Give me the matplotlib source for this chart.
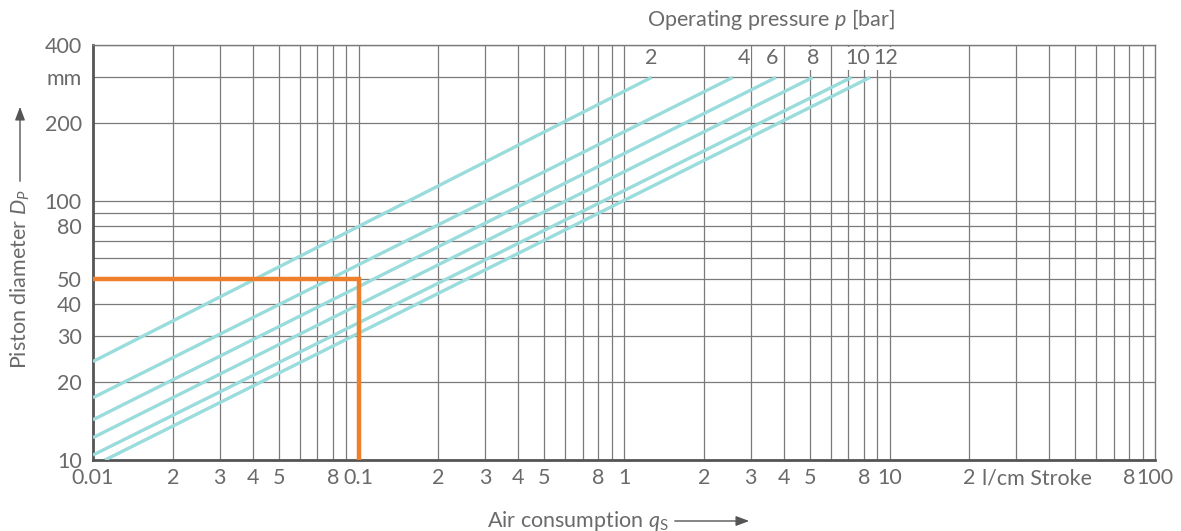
import matplotlib
matplotlib.use("Agg")
import matplotlib.pyplot as plt
from matplotlib.ticker import FixedLocator, FixedFormatter, NullLocator

# ---------------- data ----------------
pressures = [2, 4, 6, 8, 10, 12]                      # bar
q_start = [0.01, 0.01, 0.01, 0.01, 0.01, 0.0111]      # l/cm stroke
D_start = [24.0, 17.4, 14.3, 12.2, 10.45, 10.0]       # mm
q_end = [1.27, 2.57, 3.74, 5.14, 7.20, 8.45]          # l/cm stroke
D_end = [300, 300, 300, 300, 300, 300]                # mm

example_D = 50
example_q = 0.1

x_ticks = [0.01, 0.02, 0.03, 0.04, 0.05, 0.08, 0.1, 0.2, 0.3, 0.4, 0.5, 0.8,
           1, 2, 3, 4, 5, 8, 10, 20, 80, 100]
x_tick_labels = ["0.01", "2", "3", "4", "5", "8", "0.1", "2", "3", "4", "5", "8",
                 "1", "2", "3", "4", "5", "8", "10", "2", "8", "100"]
y_ticks = [10, 20, 30, 40, 50, 80, 100, 200, 300, 400]
y_tick_labels = ["10", "20", "30", "40", "50", "80", "100", "200", "mm", "400"]
unit_label = "l/cm Stroke"

# ---------------- style ----------------
plt.rcParams['font.family'] = ['Lato', 'DejaVu Sans']
plt.rcParams['mathtext.fontset'] = 'custom'
plt.rcParams['mathtext.it'] = 'Lato:italic'
plt.rcParams['mathtext.rm'] = 'Lato'
text_color = '#6a6a6a'
grid_color = '#7a7a7a'
line_color = '#9adcdc'
orange = '#f07f2c'
fs = 15.5
label_dx_pt = [0, 8, -3, 0, 4, 11]

fig = plt.figure(figsize=(11.81, 5.31), dpi=100)
ax = fig.add_axes([93/1181, 1-460/531, (1155-93)/1181, (460-45)/531])
ax.set_xscale('log')
ax.set_yscale('log')
ax.set_xlim(0.01, 100)
ax.set_ylim(10, 400)

# grid
for dec in [0.01, 0.1, 1, 10]:
    for m in range(1, 10):
        ax.axvline(dec*m, color=grid_color, lw=0.9, zorder=1)
for v in [10, 20, 30, 40, 50, 60, 70, 80, 90, 100, 200, 300, 400]:
    ax.axhline(v, color=grid_color, lw=0.9, zorder=1)

# pressure lines
for p, qs, ds, qe, de, dx in zip(pressures, q_start, D_start, q_end, D_end, label_dx_pt):
    ax.plot([qs, qe], [ds, de], color=line_color, lw=2.4, solid_capstyle='butt', zorder=3)
    ax.annotate(str(p), xy=(qe, 355), xytext=(dx, 0), textcoords='offset points',
                ha='center', va='center', fontsize=fs, color=text_color, zorder=4,
                bbox=dict(boxstyle='square,pad=0.05', fc='white', ec='none'))

# example
ax.plot([q_start[0], example_q, example_q], [example_D, example_D, D_start[-1]],
        color=orange, lw=3.2, solid_joinstyle='miter', solid_capstyle='butt', zorder=5)

# ticks
ax.xaxis.set_major_locator(FixedLocator(x_ticks))
ax.xaxis.set_major_formatter(FixedFormatter(x_tick_labels))
ax.xaxis.set_minor_locator(NullLocator())
ax.yaxis.set_major_locator(FixedLocator(y_ticks))
ax.yaxis.set_major_formatter(FixedFormatter(y_tick_labels))
ax.yaxis.set_minor_locator(NullLocator())
ax.tick_params(length=0, labelsize=fs, colors=text_color, pad=6)
ax.tick_params(axis='y', pad=8)

ax.annotate(unit_label, xy=(36, 0), xycoords=('data', 'axes fraction'),
            xytext=(0, -6), textcoords='offset points',
            ha='center', va='top', fontsize=fs, color=text_color)

for s in ['left', 'bottom']:
    ax.spines[s].set_color('#555555')
    ax.spines[s].set_linewidth(2.0)
for s in ['top', 'right']:
    ax.spines[s].set_color(grid_color)
    ax.spines[s].set_linewidth(1.0)

# axis titles
fig.text(771/1181, 1-19/531, "Operating pressure $p$ [bar]", ha='center', va='center',
         fontsize=fs, color=text_color)
fig.text(20/1181, 1-279/531, "Piston diameter $D_P$", rotation=90, ha='center',
         va='center', fontsize=fs, color=text_color)
fig.text(578/1181, 1-521/531, "Air consumption $q_\\mathrm{S}$", ha='center', va='center',
         fontsize=fs, color=text_color)
fig.patches.append(matplotlib.patches.FancyArrowPatch(
    (20/1181, 1-184/531), (20/1181, 1-104/531), transform=fig.transFigure,
    arrowstyle='-|>,head_length=8,head_width=3', color='#555555', lw=1.0))
fig.patches.append(matplotlib.patches.FancyArrowPatch(
    (672/1181, 1-521/531), (752/1181, 1-521/531), transform=fig.transFigure,
    arrowstyle='-|>,head_length=8,head_width=3', color='#555555', lw=1.0))

fig.savefig("out.png", dpi=100, facecolor='white')
